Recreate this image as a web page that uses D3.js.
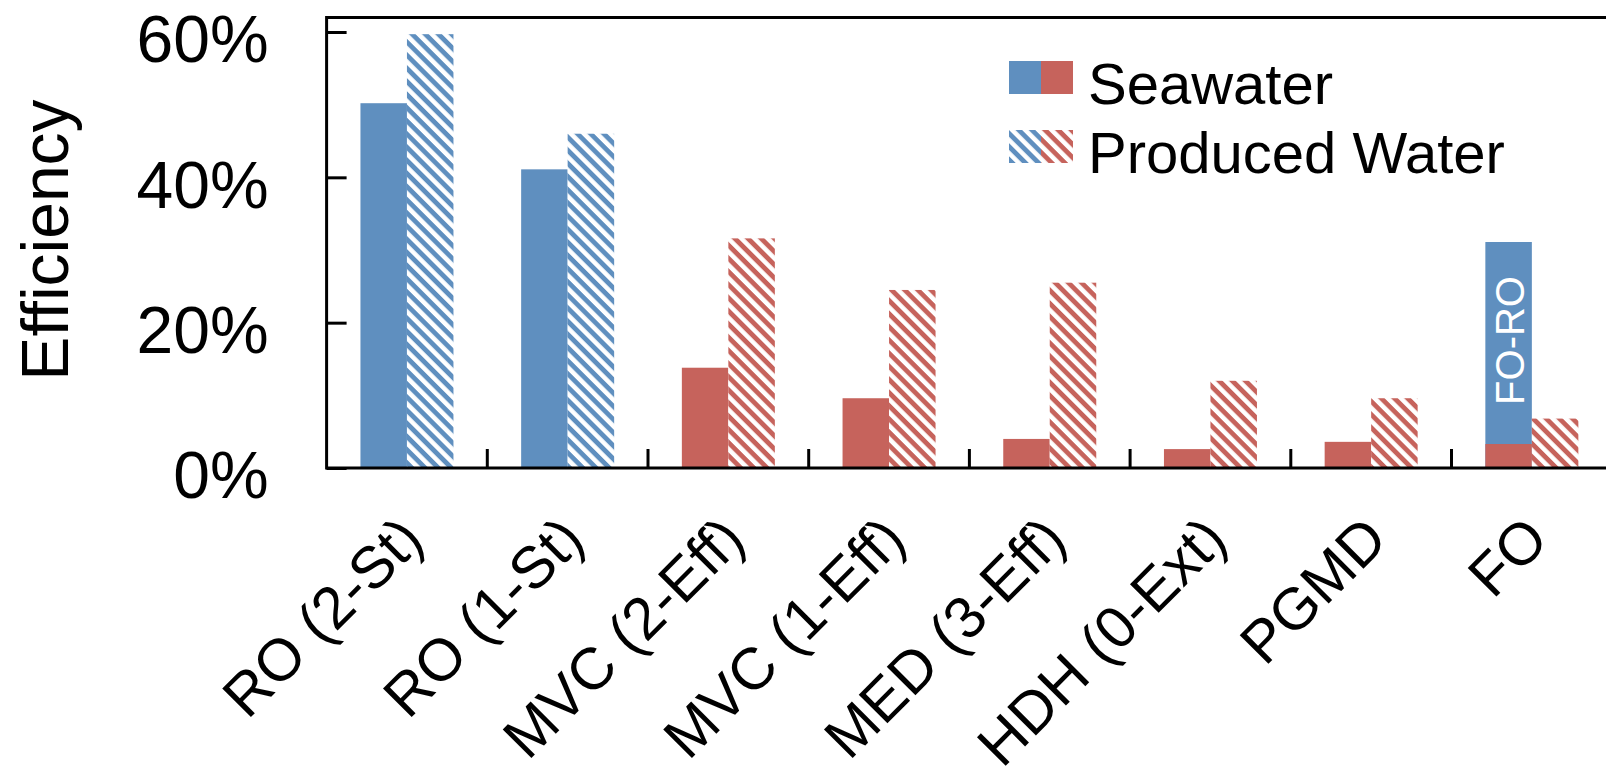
<!DOCTYPE html>
<html>
<head>
<meta charset="utf-8">
<script src="https://cdn.jsdelivr.net/npm/d3@7"></script>
<style>
  html, body { margin: 0; padding: 0; background: #fff; }
  svg { display: block; font-family: "Liberation Sans", Arial, sans-serif; }
</style>
</head>
<body>
<svg id="chart" width="1606" height="778"></svg>
<script>
// ---- data ----
const categories = ["RO (2-St)", "RO (1-St)", "MVC (2-Eff)", "MVC (1-Eff)", "MED (3-Eff)", "HDH (0-Ext)", "PGMD", "FO"];
const processType = ["RO", "RO", "MVC", "MVC", "MED", "HDH", "PGMD", "FO"];
const seawater = [50.2, 41.1, 13.8, 9.6, 4.0, 2.6, 3.6, 3.3];
const producedWater = [59.7, 46.0, 31.6, 24.5, 25.5, 12.0, 9.6, 6.8];
const seriesNames = ["Seawater", "Produced Water"];
const foroCategory = "FO";
const foroValue = 31.1;
const foroLabel = "FO-RO";
const yTicks = [0, 20, 40, 60];
const yTitle = "Efficiency";

// ---- styles ----
const BLUE = "#5f8fbf";
const RED = "#c6635c";
const colorFor = t => (t === "RO" ? BLUE : RED);

const svg = d3.select("#chart");
const defs = svg.append("defs");
[["hatch-blue", BLUE], ["hatch-red", RED]].forEach(([id, c]) => {
  const p = defs.append("pattern")
    .attr("id", id)
    .attr("patternUnits", "userSpaceOnUse")
    .attr("width", 9.3).attr("height", 9.3)
    .attr("patternTransform", "rotate(45)");
  p.append("rect").attr("width", 9.3).attr("height", 9.3).attr("fill", "#fff");
  p.append("rect").attr("width", 9.3).attr("height", 4.8).attr("fill", c);
});
const hatchFor = t => (t === "RO" ? "url(#hatch-blue)" : "url(#hatch-red)");

// ---- scales ----
const x0 = 326.6, step = 160.7;
const x = d3.scaleBand().domain(categories).range([x0, x0 + step * categories.length]).padding(0);
const xs = d3.scaleBand().domain(seriesNames).range([0, x.bandwidth()]).paddingInner(0).paddingOuter(0.728);
const y = d3.scaleLinear().domain([0, 60]).range([468, 32]);

const rows = categories.map((c, i) => ({ cat: c, type: processType[i], sw: seawater[i], pw: producedWater[i] }));

// ---- FO-RO bar (behind seawater FO bar) ----
const g = svg.append("g");
g.append("rect")
  .attr("x", x(foroCategory) + xs("Seawater"))
  .attr("width", xs.bandwidth())
  .attr("y", y(foroValue))
  .attr("height", y(0) - y(foroValue))
  .attr("fill", BLUE);

// ---- bars ----
g.selectAll("rect.sw").data(rows).join("rect")
  .attr("class", "sw")
  .attr("x", d => x(d.cat) + xs("Seawater"))
  .attr("width", xs.bandwidth())
  .attr("y", d => y(d.sw))
  .attr("height", d => y(0) - y(d.sw))
  .attr("fill", d => colorFor(d.type));

g.selectAll("rect.pw").data(rows).join("rect")
  .attr("class", "pw")
  .attr("x", d => x(d.cat) + xs("Produced Water"))
  .attr("width", xs.bandwidth())
  .attr("y", d => y(d.pw))
  .attr("height", d => y(0) - y(d.pw))
  .attr("fill", d => hatchFor(d.type));

// FO-RO label
const foroCx = x(foroCategory) + xs("Seawater") + xs.bandwidth() / 2;
svg.append("text")
  .attr("transform", `translate(${foroCx + 15},${y(foroValue / 2 + 2.0)}) rotate(-90)`)
  .attr("text-anchor", "middle")
  .attr("font-size", 40)
  .attr("fill", "#fff")
  .text(foroLabel);

// ---- axes ----
const xEnd = x0 + step * categories.length;
const yTop = y(62);
svg.append("line").attr("x1", x0).attr("x2", xEnd).attr("y1", yTop).attr("y2", yTop)
  .attr("stroke", "#000").attr("stroke-width", 3);

const yAxis = d3.axisLeft(y).tickValues(yTicks).tickSize(-20).tickPadding(58)
  .tickFormat(d => d + "%");
const yg = svg.append("g").attr("transform", `translate(${x0},0)`).call(yAxis);
yg.select(".domain").remove();
yg.selectAll(".tick line").attr("stroke", "#000").attr("stroke-width", 3);
yg.selectAll(".tick text").attr("font-size", 66).attr("font-family", '"Liberation Sans", Arial, sans-serif')
  .attr("fill", "#000").attr("dy", "0.45em");
svg.append("line").attr("x1", x0).attr("x2", x0).attr("y1", yTop - 1.5).attr("y2", y(0) + 1.5)
  .attr("stroke", "#000").attr("stroke-width", 3);

svg.append("line").attr("x1", x0).attr("x2", xEnd).attr("y1", y(0)).attr("y2", y(0))
  .attr("stroke", "#000").attr("stroke-width", 3);
svg.selectAll("line.xtick").data(categories.slice(1).concat(["__end"])).join("line")
  .attr("class", "xtick")
  .attr("x1", d => d === "__end" ? xEnd : x(d))
  .attr("x2", d => d === "__end" ? xEnd : x(d))
  .attr("y1", y(0)).attr("y2", y(0) - 19)
  .attr("stroke", "#000").attr("stroke-width", 3);

svg.selectAll("text.xl").data(categories).join("text")
  .attr("class", "xl")
  .attr("transform", d => `translate(${x(d) + x.bandwidth() / 2 + 19},542) rotate(-45)`)
  .attr("text-anchor", "end")
  .attr("font-size", 59)
  .attr("fill", "#000")
  .text(d => d);

svg.append("text")
  .attr("transform", "translate(68,240) rotate(-90)")
  .attr("text-anchor", "middle")
  .attr("font-size", 66)
  .attr("fill", "#000")
  .text(yTitle);

// ---- legend ----
const lg = svg.append("g").attr("transform", "translate(1009,61)");
const sw = 32;
seriesNames.forEach((name, i) => {
  const row = lg.append("g").attr("transform", `translate(0,${i * 69})`);
  const solid = i === 0;
  row.append("rect").attr("width", sw).attr("height", 33)
    .attr("fill", solid ? BLUE : hatchFor("RO"));
  row.append("rect").attr("x", sw).attr("width", sw).attr("height", 33)
    .attr("fill", solid ? RED : hatchFor("MVC"));
  row.append("text").attr("x", 79).attr("y", 43)
    .attr("font-size", 58).attr("fill", "#000").text(name);
});
</script>
</body>
</html>
